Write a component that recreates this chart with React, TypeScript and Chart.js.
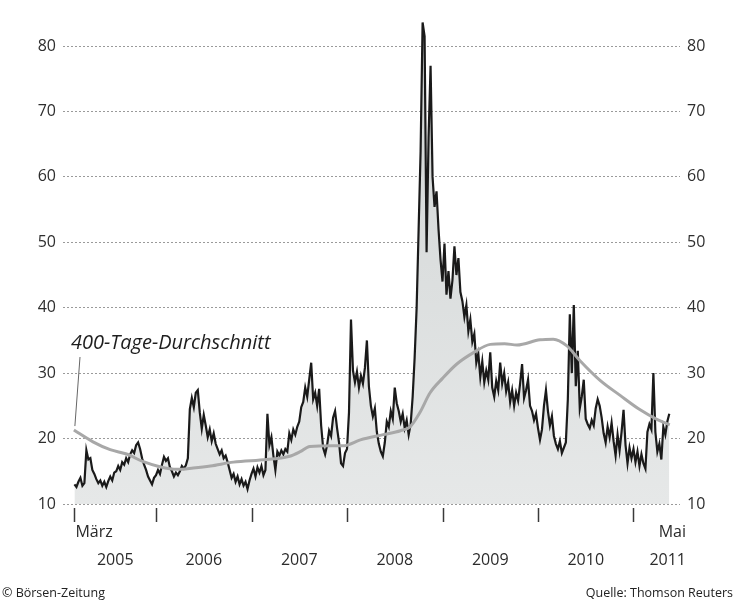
import React, { useEffect, useRef } from "react";
import { Chart, registerables } from "chart.js";

Chart.register(...registerables);

const FONT = '"Open Sans", "DejaVu Sans", sans-serif';

// Index readings, about four per month (48 per year)
const v2005 = [13.0, 12.6, 13.4, 14.0, 12.8, 13.2, 18.2, 16.8, 17.0, 15.2, 14.6, 13.8, 13.2, 13.6, 12.8, 13.4, 12.6, 13.5, 14.2, 13.6, 14.8, 15.0, 15.8, 15.2, 16.4, 16.0, 17.0, 16.4, 17.6, 18.2, 17.8, 19.0, 19.4, 18.4, 17.0, 16.0, 15.2, 14.2, 13.6, 13.0, 14.0];
const v2006 = [14.4, 15.2, 14.6, 16.0, 17.2, 16.6, 17.0, 15.6, 15.0, 14.2, 14.8, 14.4, 15.0, 15.8, 15.4, 15.9, 17.0, 24.5, 26.2, 24.8, 27.0, 27.4, 24.0, 21.5, 23.6, 22.0, 20.2, 21.4, 19.6, 20.8, 19.2, 18.4, 17.6, 18.2, 17.0, 17.4, 16.4, 15.2, 14.0, 14.6, 13.4, 14.2, 13.0, 13.8, 12.8, 13.4, 12.3, 13.6];
const v2007 = [14.6, 15.4, 14.2, 15.6, 14.8, 15.8, 14.4, 15.2, 23.8, 19.0, 20.2, 17.4, 15.2, 18.0, 17.4, 18.2, 17.6, 18.4, 18.0, 20.8, 19.8, 21.4, 20.6, 21.8, 22.6, 24.8, 25.6, 27.8, 26.4, 29.0, 31.6, 26.0, 27.0, 25.0, 27.6, 22.0, 18.6, 17.6, 19.0, 21.2, 20.4, 23.2, 24.2, 21.6, 19.4, 16.2, 15.8, 17.8];
const v2008 = [18.4, 24.0, 38.2, 30.4, 28.6, 30.2, 27.8, 29.6, 28.4, 30.8, 35.0, 28.0, 25.0, 23.4, 24.6, 21.0, 19.2, 18.0, 17.3, 19.4, 22.6, 21.8, 24.2, 23.0, 27.8, 25.4, 24.2, 22.6, 23.8, 21.6, 22.8, 20.6, 22.2, 26.4, 32.4, 40.0, 52.0, 64.0, 83.6, 81.5, 48.5, 66.0, 77.0, 60.0, 55.4, 57.8, 52.0, 47.4];
const v2009 = [44.0, 49.8, 42.0, 45.6, 41.4, 44.2, 49.4, 45.0, 47.6, 42.4, 41.0, 38.6, 40.4, 36.4, 38.2, 34.8, 36.0, 31.6, 33.0, 29.4, 31.8, 28.6, 30.4, 29.0, 33.2, 27.8, 26.4, 28.8, 27.4, 31.6, 28.4, 30.0, 27.2, 28.6, 25.6, 27.4, 25.0, 27.0, 25.8, 28.4, 31.4, 26.2, 27.4, 29.0, 25.0, 24.2, 22.8, 23.8];
const v2010 = [21.6, 19.8, 21.4, 25.0, 27.4, 24.2, 22.0, 23.4, 20.4, 19.2, 18.4, 19.6, 17.8, 18.6, 19.4, 26.0, 39.0, 30.0, 40.4, 28.0, 33.4, 24.6, 26.4, 29.0, 23.0, 22.2, 21.6, 22.8, 22.0, 24.6, 26.0, 25.0, 23.2, 20.8, 19.4, 21.8, 20.2, 22.4, 19.6, 17.4, 20.6, 18.2, 21.0, 24.4, 19.0, 16.2, 18.6, 17.0];
const v2011 = [18.4, 16.4, 18.0, 15.8, 17.6, 16.2, 15.4, 21.0, 22.2, 21.4, 30.0, 21.0, 18.0, 19.2, 16.8, 21.8, 20.6, 22.6, 23.8];

const years = [2005, 2006, 2007, 2008, 2009, 2010, 2011];
const yearSeries = [v2005, v2006, v2007, v2008, v2009, v2010, v2011];
const yearStartOffset = [7, 0, 0, 0, 0, 0, 0]; // 2005 starts end of February / March
const READINGS_PER_YEAR = 48;

// 400-day moving average (decimal year, value)
const maDates = [2005.14, 2005.34, 2005.52, 2005.7, 2005.86, 2006.04, 2006.22, 2006.39, 2006.57, 2006.81, 2007.16, 2007.4, 2007.51, 2007.61, 2007.85, 2007.96, 2008.14, 2008.38, 2008.56, 2008.66, 2008.76, 2008.87, 2009.0, 2009.15, 2009.32, 2009.5, 2009.65, 2009.78, 2010.02, 2010.16, 2010.3, 2010.44, 2010.65, 2010.86, 2011.07, 2011.25, 2011.38];
const maValues = [21.3, 19.5, 18.3, 17.6, 16.5, 15.7, 15.3, 15.5, 15.8, 16.4, 16.8, 17.3, 18.0, 18.8, 18.9, 18.9, 19.8, 20.6, 21.2, 21.8, 23.9, 27.0, 29.2, 31.4, 33.1, 34.4, 34.5, 34.3, 35.1, 35.2, 34.2, 31.9, 28.9, 26.6, 24.4, 22.9, 22.1];

const yTicks = [10, 20, 30, 40, 50, 60, 70, 80];
const xTickDates = [2005.146, 2006, 2007, 2008, 2009, 2010, 2011];
const yearLabels = ["2005", "2006", "2007", "2008", "2009", "2010", "2011"];
const startMonthLabel = "März";
const endMonthLabel = "Mai";
const annotationText = "400-Tage-Durchschnitt";
const footerLeft = "© Börsen-Zeitung";
const footerRight = "Quelle: Thomson Reuters";

const X_MIN = 2005.026;
const X_MAX = 2011.487;
const Y_MIN = 10;
const Y_MAX = 84.5;

function buildSeries() {
  const pts: { x: number; y: number }[] = [];
  yearSeries.forEach((vals, k) => {
    vals.forEach((v, i) => {
      pts.push({ x: years[k] + (yearStartOffset[k] + i) / READINGS_PER_YEAR, y: v });
    });
  });
  return pts;
}

export default function App() {
  const ref = useRef<HTMLCanvasElement>(null);

  useEffect(() => {
    document.body.style.margin = "0";
    const canvas = ref.current;
    if (!canvas) return;

    const seriesPoints = buildSeries();
    const maPoints = maDates.map((d, i) => ({ x: d, y: maValues[i] }));

    const overlay = {
      id: "overlay",
      afterDraw(chart: any) {
        const ctx = chart.ctx as CanvasRenderingContext2D;
        const xs = chart.scales.x;
        const ys = chart.scales.y;
        const area = chart.chartArea;
        ctx.save();
        // x tick marks
        ctx.strokeStyle = "#3a3a3a";
        ctx.lineWidth = 1.5;
        xTickDates.forEach((t) => {
          const px = Math.round(xs.getPixelForValue(t)) + 0.5;
          ctx.beginPath();
          ctx.moveTo(px, area.bottom + 4);
          ctx.lineTo(px, area.bottom + 18);
          ctx.stroke();
        });
        // labels
        ctx.fillStyle = "#2b2b2b";
        ctx.font = `16px ${FONT}`;
        ctx.textBaseline = "alphabetic";
        ctx.textAlign = "left";
        ctx.fillText(startMonthLabel, xs.getPixelForValue(xTickDates[0]) + 1, area.bottom + 33);
        ctx.textAlign = "right";
        ctx.fillText(endMonthLabel, area.right + 6, area.bottom + 33);
        ctx.textAlign = "center";
        for (let i = 0; i < yearLabels.length - 1; i++) {
          const a = xs.getPixelForValue(xTickDates[i]);
          const b = xs.getPixelForValue(xTickDates[i + 1]);
          ctx.fillText(yearLabels[i], (a + b) / 2, area.bottom + 61);
        }
        ctx.textAlign = "right";
        ctx.fillText(yearLabels[yearLabels.length - 1], area.right + 6, area.bottom + 61);

        // annotation
        ctx.font = `italic 20px ${FONT}`;
        ctx.textAlign = "left";
        ctx.fillStyle = "#1e1e1e";
        ctx.fillText(annotationText, 71, 349);
        const mx = xs.getPixelForValue(maDates[0]);
        const my = ys.getPixelForValue(maValues[0]);
        ctx.strokeStyle = "#666";
        ctx.lineWidth = 1;
        ctx.beginPath();
        ctx.moveTo(80, 357);
        ctx.lineTo(mx + 1, my - 4);
        ctx.stroke();

        // footer
        ctx.font = `12.5px ${FONT}`;
        ctx.fillStyle = "#222";
        ctx.textAlign = "left";
        ctx.fillText(footerLeft, 2, 597);
        ctx.textAlign = "right";
        ctx.fillText(footerRight, 733, 597);
        ctx.restore();
      },
    };

    const chart = new Chart(canvas, {
      type: "line",
      data: {
        datasets: [
          {
            label: annotationText,
            data: maPoints,
            borderColor: "#a8a8a8",
            borderWidth: 3,
            pointRadius: 0,
            fill: false,
            cubicInterpolationMode: "monotone",
            order: 0,
          },
          {
            label: "Index",
            data: seriesPoints,
            borderColor: "#1a1a1a",
            borderWidth: 2.2,
            pointRadius: 0,
            tension: 0,
            fill: "start",
            order: 1,
            backgroundColor: (c: any) => {
              const ch = c.chart;
              const a = ch.chartArea;
              if (!a) return "#dde0e0";
              const g = ch.ctx.createLinearGradient(0, a.top, 0, a.bottom);
              g.addColorStop(0, "#d0d4d4");
              g.addColorStop(1, "#e6e8e8");
              return g;
            },
          },
        ],
      },
      options: {
        responsive: false,
        animation: false,
        events: [],
        layout: { padding: { top: 12, bottom: 102, left: 0, right: 0 } },
        plugins: { legend: { display: false }, tooltip: { enabled: false } },
        scales: {
          x: {
            type: "linear",
            min: X_MIN,
            max: X_MAX,
            display: false,
          },
          y: {
            type: "linear",
            position: "left",
            min: Y_MIN,
            max: Y_MAX,
            z: 1,
            afterFit: (s: any) => {
              s.width = 63;
            },
            afterBuildTicks: (s: any) => {
              s.ticks = yTicks.map((v) => ({ value: v }));
            },
            ticks: { font: { family: FONT, size: 16 }, color: "#2e2e2e", padding: 7 },
            grid: { color: "#9a9a9a", lineWidth: 1, drawTicks: false },
            border: { display: false, dash: [2, 2] },
          },
          y2: {
            type: "linear",
            position: "right",
            min: Y_MIN,
            max: Y_MAX,
            afterFit: (s: any) => {
              s.width = 55;
            },
            afterBuildTicks: (s: any) => {
              s.ticks = yTicks.map((v) => ({ value: v }));
            },
            ticks: { font: { family: FONT, size: 16 }, color: "#2e2e2e", padding: 7 },
            grid: { display: false, drawTicks: false },
            border: { display: false },
          },
        },
      },
      plugins: [overlay],
    });

    return () => chart.destroy();
  }, []);

  return (
    <div style={{ width: 735, height: 606, background: "#fff" }}>
      <canvas ref={ref} width={735} height={606} style={{ display: "block" }} />
    </div>
  );
}
